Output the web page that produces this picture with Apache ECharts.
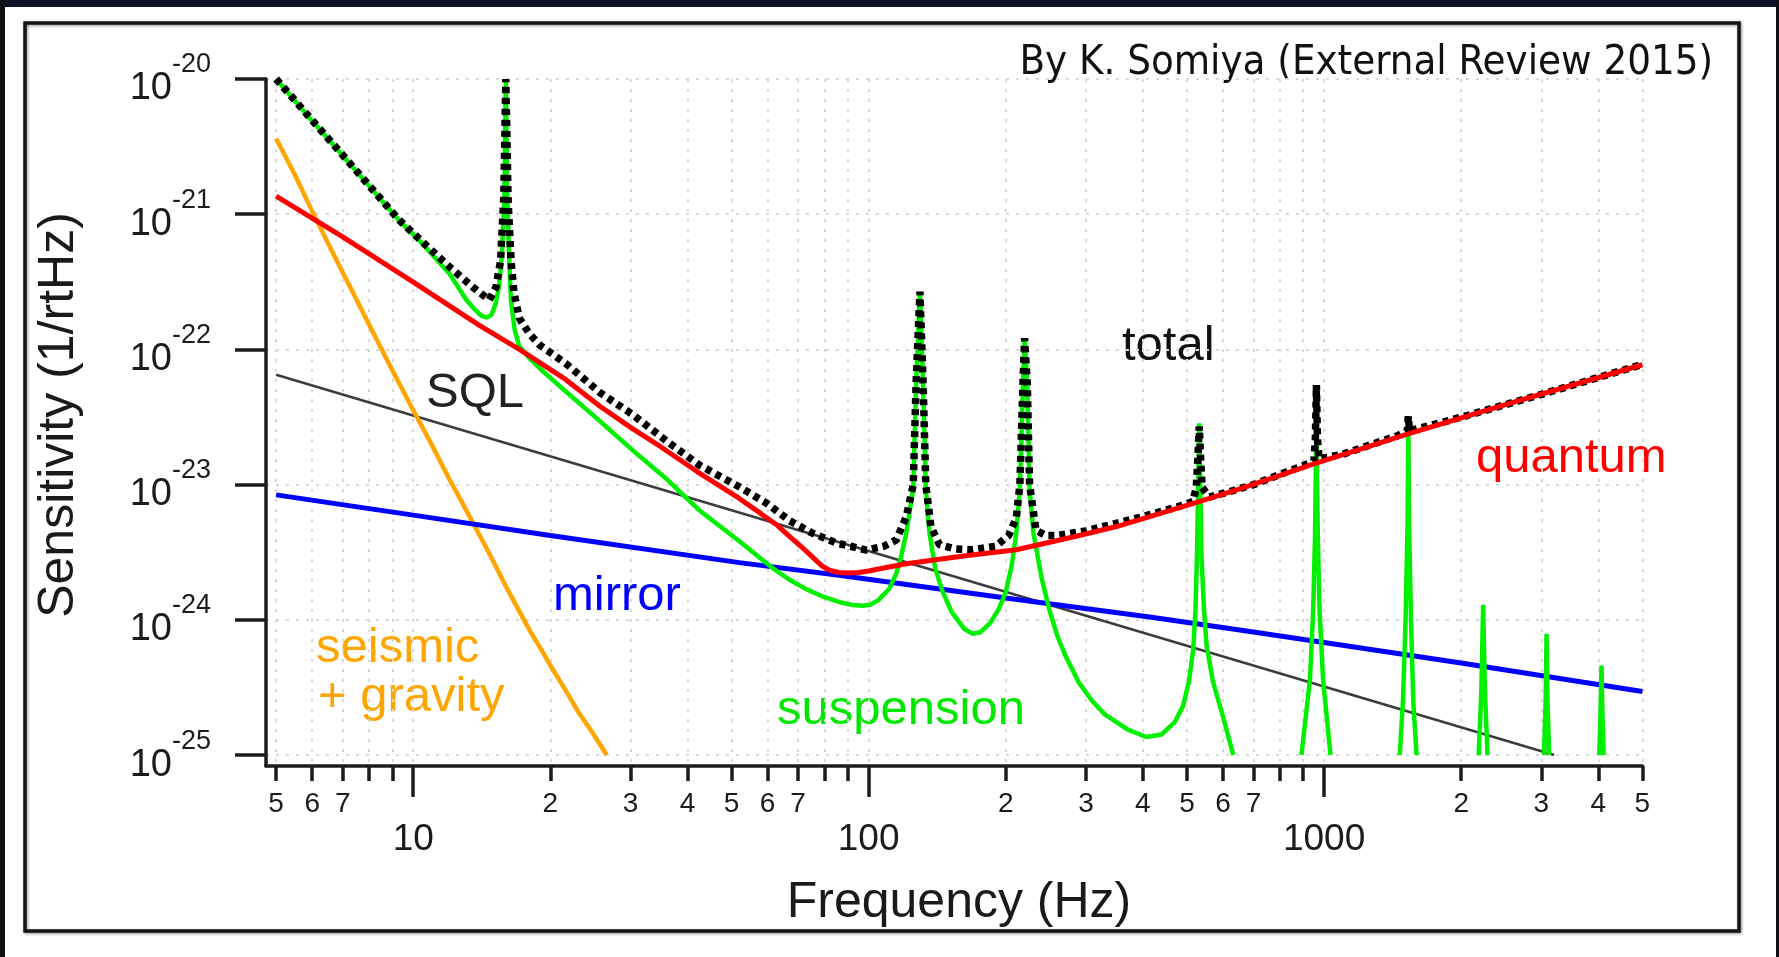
<!DOCTYPE html>
<html>
<head>
<meta charset="utf-8">
<script src="https://cdn.jsdelivr.net/npm/echarts@6.0.0/dist/echarts.min.js"></script>
<style>
html,body{margin:0;padding:0;background:#ffffff;}
#chart{width:1779px;height:957px;}
</style>
</head>
<body>
<div id="chart"></div>
<script>
// ---- tick definitions ----
const xMinorTicks = [5,6,7,8,9,10,20,30,40,50,60,70,80,90,100,200,300,400,500,600,700,800,900,1000,2000,3000,4000,5000];
const xMinorLabels = [5,6,7,20,30,40,50,60,70,200,300,400,500,600,700,2000,3000,4000,5000];
const xMajorTicks = [10,100,1000];
const yTicks = [1e-25,1e-24,1e-23,1e-22,1e-21,1e-20];

// ---- series values [frequency Hz, sensitivity 1/rtHz] ----
const sqlLine = [[5,6.5e-23],[3200,1.0e-25]];

const seismicGravity = [[5,3.63e-21],[5.5,1.95e-21],[6,1.05e-21],[6.5,6.1e-22],[7,3.7e-22],[7.5,2.35e-22],[8,1.52e-22],[8.5,1.02e-22],[9,7.0e-23],[10,3.55e-23],[11,1.95e-23],[12,1.1e-23],[13,6.7e-24],[14,4.2e-24],[15,2.7e-24],[16,1.75e-24],[17,1.2e-24],[18,8.4e-25],[19,6.2e-25],[20,4.6e-25],[21.5,3.1e-25],[23,2.1e-25],[24.8,1.45e-25],[26.6,1.0e-25]];

const mirror = [[5,8.4e-24],[10,5.95e-24],[20,4.2e-24],[52,2.65e-24],[86,2.14e-24],[200,1.45e-24],[414,1.05e-24],[653,8.4e-25],[1000,6.8e-25],[2000,4.8e-25],[5000,2.95e-25]];

const suspension = [[5,1.0e-20],[6,4.9e-21],[6.65,3.3e-21],[8,1.62e-21],[9.31,9.0e-22],[10.5,6.0e-22],[12,3.65e-22],[13.05,2.35e-22],[13.6,2.0e-22],[14.1,1.78e-22],[14.5,1.72e-22],[14.85,1.8e-22],[15.18,2.2e-22],[15.45,3.0e-22],[15.65,5.0e-22],[15.85,1.3e-21],[15.97,1.0e-20],[16.1,1.3e-21],[16.25,4.5e-22],[16.39,2.3e-22],[16.7,1.4e-22],[17.1,1.05e-22],[18,8.6e-23],[19,7.2e-23],[21.6,4.9e-23],[25.7,2.95e-23],[30.3,1.8e-23],[36,1.1e-23],[42.4,6.5e-24],[52.1,3.8e-24],[61.7,2.4e-24],[67,1.98e-24],[73.1,1.68e-24],[80,1.47e-24],[86.4,1.35e-24],[92,1.29e-24],[97.3,1.27e-24],[101,1.3e-24],[105,1.4e-24],[111,1.7e-24],[115,2.2e-24],[118,3.0e-24],[121,4.4e-24],[125.3,9.5e-24],[127.1,5.5e-23],[129.6,2.67e-22],[131.7,5.5e-23],[133.5,9.5e-24],[136,4.4e-24],[140,2.4e-24],[145,1.65e-24],[152,1.15e-24],[162,8.6e-25],[169,7.9e-25],[176,8.1e-25],[185,9.5e-25],[193,1.2e-24],[200,1.6e-24],[206,2.5e-24],[211,4.4e-24],[214.8,9.5e-24],[218.2,5.5e-23],[220,1.21e-22],[223,5.5e-23],[225.6,9.5e-24],[230,4.4e-24],[240,2.0e-24],[250,1.15e-24],[260,7.5e-25],[270,5.5e-25],[290,3.4e-25],[310,2.5e-25],[330,2.0e-25],[370,1.55e-25],[407,1.36e-25],[440,1.42e-25],[470,1.75e-25],[490,2.3e-25],[505,3.5e-25],[516,6.0e-25],[522,1.2e-24],[526,3.0e-24],[532,2.84e-23],[538,3.0e-24],[545,1.2e-24],[552,6.5e-25],[570,3.5e-25],[600,1.92e-25],[632,1.0e-25],[760,'-'],[892,1.0e-25],[931,3.6e-25],[946,1.12e-24],[955,4.0e-24],[960,1.5e-23],[962,5.4e-23],[964,1.5e-23],[969,4.0e-24],[978,1.12e-24],[995,3.6e-25],[1033,1.0e-25],[1250,'-'],[1466,1.0e-25],[1490,2.5e-25],[1510,1.0e-24],[1525,5.0e-24],[1531,2.84e-23],[1537,5.0e-24],[1552,1.0e-24],[1570,2.5e-25],[1596,1.0e-25],[1900,'-'],[2185,1.0e-25],[2215,3.0e-25],[2235,1.29e-24],[2255,3.0e-25],[2285,1.0e-25],[2600,'-'],[3040,1.0e-25],[3065,2.5e-25],[3080,7.9e-25],[3095,2.5e-25],[3120,1.0e-25],[3500,'-'],[4020,1.0e-25],[4045,2.0e-25],[4066,4.6e-25],[4085,2.0e-25],[4110,1.0e-25]];

const total = [[5,1.0e-20],[6,4.95e-21],[6.65,3.34e-21],[8,1.63e-21],[9.31,9.06e-22],[10.5,6.2e-22],[12,4.09e-22],[13.5,2.9e-22],[14.68,2.32e-22],[15.2,2.9e-22],[15.55,4.5e-22],[15.8,1.3e-21],[15.97,1.0e-20],[16.15,1.3e-21],[16.4,4.5e-22],[16.65,2.6e-22],[17.1,1.7e-22],[18,1.3e-22],[19,1.07e-22],[21.6,7.9e-23],[25.7,4.8e-23],[30.3,3.3e-23],[36,2.1e-23],[42.4,1.4e-23],[52.1,9.6e-24],[60,7.2e-24],[67.1,5.4e-24],[75,4.4e-24],[85,3.7e-24],[99,3.28e-24],[108,3.5e-24],[115,3.9e-24],[121,5.8e-24],[125.3,1.0e-23],[127.1,5.6e-23],[129.6,2.67e-22],[131.7,5.6e-23],[133.5,1.0e-23],[137,4.9e-24],[143,3.6e-24],[155,3.35e-24],[169,3.3e-24],[190,3.5e-24],[203,4.2e-24],[211,5.7e-24],[214.8,1.0e-23],[218.2,5.6e-23],[220,1.21e-22],[223,5.6e-23],[225.6,1.0e-23],[233,4.6e-24],[245,4.2e-24],[260,4.2e-24],[300,4.55e-24],[400,5.8e-24],[480,6.9e-24],[515,7.5e-24],[524,9.5e-24],[528,1.5e-23],[532,2.7e-23],[536,1.5e-23],[540,9.5e-24],[560,8.1e-24],[600,8.6e-24],[700,1.0e-23],[800,1.19e-23],[900,1.38e-23],[950,1.5e-23],[957,2.2e-23],[962,5.46e-23],[967,2.2e-23],[975,1.55e-23],[1100,1.68e-23],[1450,2.3e-23],[1522,2.5e-23],[1531,3.2e-23],[1540,2.5e-23],[2000,3.15e-23],[3000,4.65e-23],[5000,7.75e-23]];

const quantum = [[5,1.36e-21],[7,6.8e-22],[10,3.15e-22],[14,1.5e-22],[17.1,1.0e-22],[21.6,6.0e-23],[25.7,3.8e-23],[30,2.65e-23],[35,1.9e-23],[42,1.25e-23],[52,7.9e-24],[58,6.1e-24],[63,5.0e-24],[67,4.15e-24],[71,3.5e-24],[75,2.95e-24],[79,2.5e-24],[82,2.33e-24],[86,2.24e-24],[90,2.22e-24],[95,2.24e-24],[100,2.3e-24],[110,2.45e-24],[121,2.6e-24],[160,2.95e-24],[211,3.3e-24],[281,4.1e-24],[350,4.9e-24],[414,5.8e-24],[525,7.4e-24],[653,9.3e-24],[800,1.17e-23],[946,1.42e-23],[1517,2.35e-23],[2500,3.9e-23],[5000,7.7e-23]];

// ---- styling ----
const AX = '#1c1c1c';
const SANS = '"Liberation Sans", Arial, Helvetica, sans-serif';
const TITLE_FONT = '"DejaVu Sans Condensed", "DejaVu Sans", Tahoma, sans-serif';
const titleText = 'By K. Somiya (External Review 2015)';

function fitFontSize(text, family, targetWidth) {
  const ctx = document.createElement('canvas').getContext('2d');
  ctx.font = '100px ' + family;
  const w = ctx.measureText(text).width;
  let s = 100 * targetWidth / w;
  return Math.max(34, Math.min(46, s));
}
const titleSize = fitFontSize(titleText, TITLE_FONT, 694);

const chart = echarts.init(document.getElementById('chart'), null, {renderer: 'canvas'});

const gridLine = {show: true, lineStyle: {color: '#d9d9d9', width: 2, type: [3, 7]}};

function label(text, x, y, color) {
  return {type: 'text', x: x, y: y, silent: true,
    style: {text: text, fill: color, font: '49px ' + SANS, align: 'left', verticalAlign: 'middle', textAlign: 'left', textVerticalAlign: 'middle'}};
}

const option = {
  backgroundColor: '#ffffff',
  animation: false,
  textStyle: {fontFamily: SANS},
  grid: {left: 266, top: 79, right: 136.6, bottom: 191, containLabel: false, outerBoundsMode: 'none'},
  xAxis: [
    {
      type: 'log', logBase: 10, min: 4.75, max: 5000.001, position: 'bottom',
      axisLine: {show: true, lineStyle: {color: AX, width: 3.5}},
      axisTick: {show: true, inside: false, length: 15, customValues: xMinorTicks, lineStyle: {color: AX, width: 3.5}},
      axisLabel: {
        show: true, customValues: xMinorLabels, margin: 24, fontSize: 28, color: AX, fontFamily: SANS,
        formatter: function (v) { const e = Math.floor(Math.log10(v) + 1e-9); return String(Math.round(v / Math.pow(10, e))); }
      },
      splitLine: gridLine,
      minorTick: {show: false}, minorSplitLine: {show: false}
    },
    {
      type: 'log', logBase: 10, min: 4.75, max: 5000.001, position: 'bottom',
      axisLine: {show: false},
      axisTick: {show: true, inside: false, length: 31, customValues: xMajorTicks, lineStyle: {color: AX, width: 3.5}},
      axisLabel: {
        show: true, customValues: xMajorTicks, margin: 55, fontSize: 37, color: AX, fontFamily: SANS,
        formatter: function (v) { return String(Math.round(v)); }
      },
      splitLine: {show: false},
      minorTick: {show: false}, minorSplitLine: {show: false}
    }
  ],
  yAxis: [
    {
      type: 'log', logBase: 10, min: 8.3e-26, max: 1.00001e-20, position: 'left',
      axisLine: {show: true, lineStyle: {color: AX, width: 3.5}},
      axisTick: {show: true, inside: false, length: 31, customValues: yTicks, lineStyle: {color: AX, width: 3.5}},
      axisLabel: {
        show: true, customValues: yTicks, margin: 55, color: AX, fontFamily: SANS,
        formatter: function (v) { const e = Math.round(Math.log10(v)); return '{b|10}{s|' + e + '}'; },
        rich: {
          b: {fontSize: 38, color: AX, fontFamily: SANS, padding: [20, 0, 0, 0], verticalAlign: 'middle'},
          s: {fontSize: 27, color: AX, fontFamily: SANS, padding: [0, 0, 28, 0], verticalAlign: 'middle'}
        }
      },
      splitLine: gridLine,
      minorTick: {show: false}, minorSplitLine: {show: false}
    }
  ],
  series: [
    {name: 'SQL', type: 'line', data: sqlLine, showSymbol: false, symbol: 'none', silent: true,
     lineStyle: {color: '#3c3c3c', width: 2.5}},
    {name: 'seismic + gravity', type: 'line', data: seismicGravity, showSymbol: false, symbol: 'none', silent: true,
     lineStyle: {color: '#ffa500', width: 4.5}},
    {name: 'mirror', type: 'line', data: mirror, showSymbol: false, symbol: 'none', silent: true,
     lineStyle: {color: '#0000ff', width: 5}},
    {name: 'suspension', type: 'line', data: suspension, showSymbol: false, symbol: 'none', silent: true, connectNulls: false,
     lineStyle: {color: '#00f000', width: 4.5}},
    {name: 'total', type: 'line', data: total, showSymbol: false, symbol: 'none', silent: true,
     lineStyle: {color: '#000000', width: 7.5, type: [6, 5], cap: 'butt'}},
    {name: 'quantum', type: 'line', data: quantum, showSymbol: false, symbol: 'none', silent: true,
     lineStyle: {color: '#ff0000', width: 5}}
  ],
  graphic: {
    elements: [
      {type: 'rect', shape: {x: 0, y: 0, width: 1779, height: 7}, style: {fill: '#0d1226'}, silent: true},
      {type: 'rect', shape: {x: 0, y: 0, width: 5, height: 957}, style: {fill: '#0f1014'}, silent: true},
      {type: 'rect', shape: {x: 1776, y: 0, width: 3, height: 957}, style: {fill: '#0f1014'}, silent: true},
      {type: 'rect', shape: {x: 25, y: 23, width: 1714, height: 908},
       style: {fill: 'none', stroke: '#151515', lineWidth: 3.5, shadowBlur: 3, shadowColor: 'rgba(0,0,0,0.45)', shadowOffsetX: 1, shadowOffsetY: 1}, silent: true},
      {type: 'text', x: 1713, y: 63, silent: true,
       style: {text: titleText, fill: '#111', font: titleSize.toFixed(1) + 'px ' + TITLE_FONT, align: 'right', verticalAlign: 'middle', textAlign: 'right', textVerticalAlign: 'middle'}},
      {type: 'text', x: 959, y: 903, silent: true,
       style: {text: 'Frequency (Hz)', fill: '#1a1a1a', font: '50px ' + SANS, align: 'center', verticalAlign: 'middle', textAlign: 'center', textVerticalAlign: 'middle'}},
      {type: 'text', x: 59, y: 415, rotation: Math.PI / 2, silent: true,
       style: {text: 'Sensitivity (1/rtHz)', fill: '#1a1a1a', font: '50px ' + SANS, align: 'center', verticalAlign: 'middle', textAlign: 'center', textVerticalAlign: 'middle'}},
      label('SQL', 426, 393, '#222222'),
      label('total', 1122, 346, '#111111'),
      label('quantum', 1476, 458, '#ff0000'),
      label('mirror', 553, 596, '#0000ff'),
      label('seismic', 316, 648, '#ffa500'),
      label('+ gravity', 318, 697, '#ffa500'),
      label('suspension', 777, 710, '#00e800')
    ]
  }
};
chart.setOption(option);
</script>
</body>
</html>
